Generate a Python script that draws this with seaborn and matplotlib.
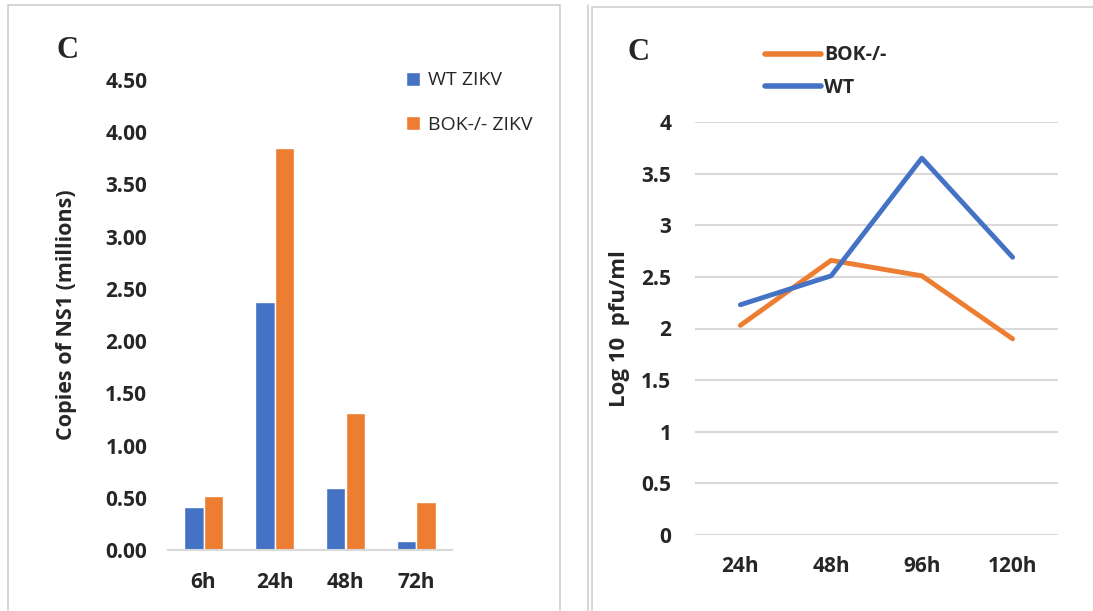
import numpy as np
import pandas as pd
import matplotlib.pyplot as plt
import matplotlib.ticker as mtick
from matplotlib.patches import Rectangle
import seaborn as sns

### Data

# left: copies of NS1 (millions)
bar_times = ["6h", "24h", "48h", "72h"]
wt_zikv = [0.41, 2.37, 0.59, 0.09]
bok_zikv = [0.52, 3.85, 1.31, 0.46]

# right: log10 pfu/ml
line_times = ["24h", "48h", "96h", "120h"]
bok_pfu = [2.03, 2.66, 2.51, 1.90]
wt_pfu = [2.23, 2.51, 3.65, 2.69]

blue = "#4472C4"
orange = "#ED7D31"

df_bar = pd.DataFrame({
    "time": bar_times * 2,
    "value": wt_zikv + bok_zikv,
    "group": ["WT ZIKV"] * 4 + ["BOK-/- ZIKV"] * 4,
})
df_line = pd.DataFrame({
    "time": line_times * 2,
    "value": bok_pfu + wt_pfu,
    "group": ["BOK-/-"] * 4 + ["WT"] * 4,
})

### Figure

sns.set_theme(style="white")
plt.rcParams["font.family"] = ["Open Sans", "DejaVu Sans"]

fig = plt.figure(figsize=(10.93, 6.11), dpi=100)

# panel borders
fig.patches.append(Rectangle((8 / 1093, -0.01), 552 / 1093, 1 - 5 / 611 + 0.01, transform=fig.transFigure,
                             fill=False, edgecolor="#d0d0d0", linewidth=1.2))
fig.patches.append(Rectangle((592 / 1093, -0.01), 520 / 1093, 1 - 7 / 611 + 0.01, transform=fig.transFigure,
                             fill=False, edgecolor="#d0d0d0", linewidth=1.2))
fig.lines.append(plt.Line2D([588 / 1093, 588 / 1093], [0, 1 - 5 / 611], transform=fig.transFigure,
                            color="#d0d0d0", linewidth=1.2))

## plot1: bars
ax1 = fig.add_axes([168 / 1093, 1 - 550 / 611, 284 / 1093, 470 / 611])
sns.barplot(data=df_bar, x="time", y="value", hue="group", order=bar_times,
            hue_order=["WT ZIKV", "BOK-/- ZIKV"], palette=[blue, orange],
            width=0.56, saturation=1, ax=ax1)
ax1.set_ylim(0, 4.5)
ax1.set_xlim(-0.5, 3.5)
ax1.set_yticks(np.arange(0, 4.51, 0.5))
ax1.yaxis.set_major_formatter(mtick.FormatStrFormatter("%.2f"))
for s in ["top", "right", "left"]:
    ax1.spines[s].set_visible(False)
ax1.spines["bottom"].set_color("#d9d9d9")
ax1.spines["bottom"].set_linewidth(1.5)
ax1.tick_params(axis="both", length=0, labelsize=15, pad=15)
ax1.tick_params(axis="x", pad=16)
for lbl in ax1.get_xticklabels() + ax1.get_yticklabels():
    lbl.set_fontweight("bold")
ax1.set_xlabel("")
ax1.set_ylabel("Copies of NS1 (millions)", fontsize=15.5, fontweight="bold", labelpad=20)
ax1.legend(loc="upper left", bbox_to_anchor=(388 / 1093, 1 - 54 / 611), bbox_transform=fig.transFigure,
           frameon=False, fontsize=14, handlelength=0.75, handleheight=0.75, labelspacing=1.35, handletextpad=0.4)
fig.text(67 / 1093, 1 - 50 / 611, "C", fontsize=22, fontweight="bold", family="Liberation Serif",
         ha="center", va="center")

## plot2: lines
ax2 = fig.add_axes([695 / 1093, 1 - 535 / 611, 363 / 1093, 413 / 611])
sns.lineplot(data=df_line, x="time", y="value", hue="group", hue_order=["BOK-/-", "WT"],
             palette=[orange, blue], sort=False, linewidth=3.5, ax=ax2)
ax2.set_ylim(0, 4)
ax2.set_xlim(-0.5, 3.5)
ax2.set_yticks(np.arange(0, 4.01, 0.5))
ax2.yaxis.set_major_formatter(mtick.FuncFormatter(lambda v, p: "{:g}".format(v)))
ax2.grid(axis="y", color="#d9d9d9", linewidth=1.5)
ax2.set_axisbelow(True)
for s in ["top", "right", "left", "bottom"]:
    ax2.spines[s].set_visible(False)
ax2.tick_params(axis="both", length=0, labelsize=15, pad=17)
ax2.tick_params(axis="x", pad=15)
for lbl in ax2.get_xticklabels() + ax2.get_yticklabels():
    lbl.set_fontweight("bold")
ax2.set_xlabel("")
ax2.set_ylabel("Log 10  pfu/ml", fontsize=16, fontweight="bold", labelpad=8)
leg = ax2.legend(loc="upper left", bbox_to_anchor=(747 / 1093, 1 - 28 / 611), bbox_transform=fig.transFigure,
                 frameon=False, handlelength=2.9, handletextpad=0.15, labelspacing=0.65,
                 prop={"size": 14, "weight": "bold"})
for h in leg.get_lines():
    h.set_linewidth(4)
fig.text(638 / 1093, 1 - 52 / 611, "C", fontsize=22, fontweight="bold", family="Liberation Serif",
         ha="center", va="center")

plt.savefig("out.png", dpi=100)
